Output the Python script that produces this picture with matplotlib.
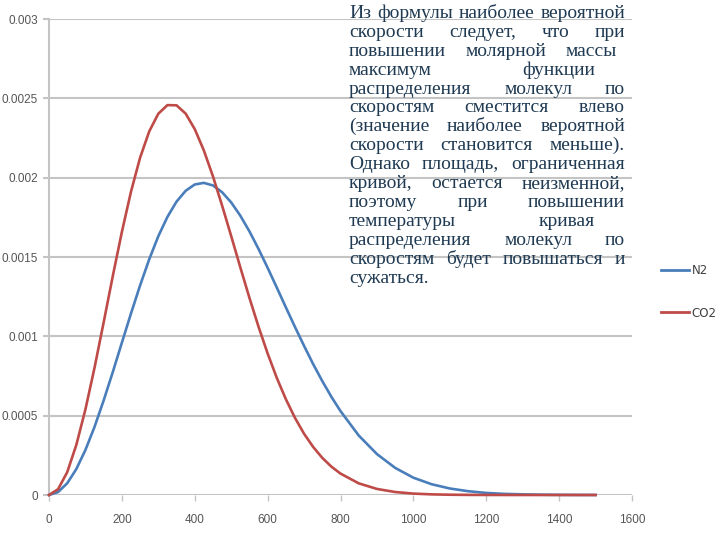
import matplotlib
matplotlib.use("Agg")
import matplotlib.pyplot as plt
from matplotlib.lines import Line2D

# ---------- data ----------
speed = [0, 25, 50, 75, 100, 125, 150, 175, 200, 225, 250, 275, 300, 325, 350,
         375, 400, 425, 450, 475, 500, 525, 550, 575, 600, 625, 650, 675, 700,
         725, 750, 775, 800, 850, 900, 950, 1000, 1050, 1100, 1150, 1200,
         1250, 1300, 1350, 1400, 1450, 1500]

n2 = [0, 0.0000187, 0.000074, 0.0001637, 0.000284, 0.0004298, 0.000596,
      0.0007743, 0.000960, 0.0011441, 0.001321, 0.0014852, 0.001631, 0.0017528,
      0.001849, 0.0019172, 0.001957, 0.0019671, 0.001951, 0.0019085, 0.001844,
      0.0017607, 0.001662, 0.0015509, 0.001432, 0.0013082, 0.001183, 0.0010593,
      0.000940, 0.0008249, 0.000718, 0.0006186, 0.000529, 0.000375, 0.000258,
      0.000171, 0.000109, 0.000068, 0.000041, 0.000024, 0.000013, 0.000007,
      0.000004, 0.000002, 0.000001, 0.0000005, 0.0000002]

co2 = [0, 0.0000367, 0.000144, 0.0003157, 0.000540, 0.0008029, 0.001088,
       0.0013790, 0.001658, 0.0019116, 0.002126, 0.0022913, 0.002403, 0.0024573,
       0.002456, 0.0024039, 0.002306, 0.0021714, 0.002008, 0.0018246, 0.001632,
       0.0014352, 0.001243, 0.0010608, 0.000892, 0.0007390, 0.000604, 0.0004863,
       0.000386, 0.0003028, 0.000234, 0.0001788, 0.000135, 0.0000735, 0.0000382,
       0.0000188, 0.0000088, 0.0000040, 0.0000017, 0.0000007, 0.0000003,
       0.0000001, 0, 0, 0, 0, 0]

series_labels = ["N2", "CO2"]

x_ticks = [0, 200, 400, 600, 800, 1000, 1200, 1400, 1600]
y_ticks = [0, 0.0005, 0.001, 0.0015, 0.002, 0.0025, 0.003]
y_tick_labels = ["0", "0.0005", "0.001", "0.0015", "0.002", "0.0025", "0.003"]

text_lines = [
    "Из формулы наиболее вероятной",
    "скорости следует, что при",
    "повышении молярной массы",
    "максимум функции",
    "распределения молекул по",
    "скоростям сместится влево",
    "(значение наиболее вероятной",
    "скорости становится меньше).",
    "Однако площадь, ограниченная",
    "кривой, остается неизменной,",
    "поэтому при повышении",
    "температуры кривая",
    "распределения молекул по",
    "скоростям будет повышаться и",
    "сужаться.",
]
# -------------------------------------------------

BLUE = "#4a7ebb"
RED = "#be4b48"
GRID = "#c4c4c4"
TICK_TXT = "#555555"
TEXT_COLOR = "#1f3a52"

W, H = 720, 540
fig = plt.figure(figsize=(7.2, 5.4), dpi=100)
ax = fig.add_axes([49 / W, 45 / H, 583 / W, 476 / H])

ax.plot(speed, n2, color=BLUE, lw=1.9, clip_on=False, zorder=3)
ax.plot(speed, co2, color=RED, lw=1.9, clip_on=False, zorder=4)

ax.set_xlim(0, 1600)
ax.set_ylim(0, 0.003)
ax.set_xticks(x_ticks)
ax.set_xticklabels([str(t) for t in x_ticks], family="Liberation Sans")
ax.set_yticks(y_ticks)
ax.set_yticklabels(y_tick_labels, family="Liberation Sans")

for s in ax.spines.values():
    s.set_visible(False)
ax.spines["left"].set_visible(True)
ax.spines["left"].set_color(GRID)
ax.spines["left"].set_linewidth(1.5)

ax.grid(axis="y", color=GRID, lw=1.5)
ax.set_axisbelow(True)
ax.tick_params(axis="x", length=4, width=1, color=GRID, labelsize=8.5,
               labelcolor=TICK_TXT, pad=10)
ax.tick_params(axis="y", length=4, width=1.5, color=GRID, labelsize=8.5,
               labelcolor=TICK_TXT, pad=4)

# legend at right, no frame
handles = [Line2D([], [], color=BLUE, lw=2), Line2D([], [], color=RED, lw=2)]
fig.legend(handles, series_labels, loc="upper left",
           bbox_to_anchor=(661 / W, 1 - 264 / H), frameon=False, fontsize=8.5,
           handlelength=2.4, handletextpad=0.2, labelspacing=2.5,
           borderpad=0, borderaxespad=0, labelcolor="#404040")

# justified serif text block over the chart
fig.canvas.draw()
renderer = fig.canvas.get_renderer()
text_left, text_right = 349, 625
first_base, line_step = 18, 18.9
short = {2: 8, 3: 30, 11: 30}
space = 0.25 * 14 * 100 / 72

for i, line in enumerate(text_lines):
    words = line.split()
    y = 1 - (first_base + i * line_step) / H
    arts = [fig.text(0, y, w, fontsize=14, family="Liberation Serif",
                     color=TEXT_COLOR, va="baseline") for w in words]
    widths = [a.get_window_extent(renderer).width for a in arts]
    right = text_right - short.get(i, 0)
    if i == len(text_lines) - 1 or len(words) == 1:
        gap = space
    else:
        gap = (right - text_left - sum(widths)) / (len(words) - 1)
    x = text_left
    for a, w in zip(arts, widths):
        a.set_x(x / W)
        x += w + gap

fig.savefig("out.png", dpi=100)
